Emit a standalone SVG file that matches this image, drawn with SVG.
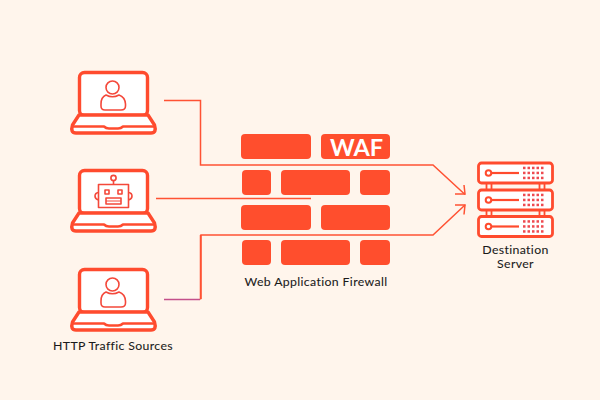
<svg xmlns="http://www.w3.org/2000/svg" width="600" height="400" viewBox="0 0 600 400">
<style>
.o{fill:none;stroke:#ff4b2e;stroke-linecap:round;stroke-linejoin:round}
.s{fill:#fff;stroke:#ff4b2e;stroke-width:3.400;stroke-linejoin:round}
.i{fill:none;stroke:#f4483a;stroke-width:1.600;stroke-linejoin:round}
.c{fill:none;stroke:#ff5233;stroke-width:1.500}
.b{fill:#ff4e2d}
.d{fill:#ee4a50}
text{font-family:Lato,"Noto Sans",sans-serif;font-size:12.300px;fill:#1a1a1a;stroke:#1a1a1a;stroke-width:.08px;letter-spacing:.35px}
</style>
<defs>
<g id="laptop">
<rect class="s" x="79.500" y="72.500" width="68" height="43" rx="5"/>
<path class="s" d="M79 115H148L154.500 125Q157 133 151 133H76Q70 133 72.500 125Z"/>
<path class="o" d="M73 126.500H104Q106 128.500 109 128.500H118Q121 128.500 123 126.500H154" style="stroke-width:2.600"/>
</g>
<g id="user">
<circle class="i" cx="112.500" cy="87.500" r="6.500"/>
<path class="i" d="M106 95Q112.500 98.500 119 95Q125 97 125.500 104V106Q125.500 110 121 110H105Q101 110 101 106V104Q101 97 106 95Z"/>
</g>
<g id="unit">
<rect class="s" x="478.500" y="0" width="74" height="20" rx="3" style="stroke-width:2.800"/>
<circle cx="488.500" cy="10" r="2.800" fill="#fff" stroke="#ff4b2e" stroke-width="2"/>
<path d="M491.500 10H519" stroke="#ff4b2e" stroke-width="2.200" fill="none"/>
<g class="d">
<rect x="523" y="3.700" width="2.500" height="2.500"/><rect x="527.500" y="3.700" width="2.500" height="2.500"/><rect x="532" y="3.700" width="2.500" height="2.500"/><rect x="536.500" y="3.700" width="2.500" height="2.500"/><rect x="541" y="3.700" width="2.500" height="2.500"/>
<rect x="523" y="8.700" width="2.500" height="2.500"/><rect x="527.500" y="8.700" width="2.500" height="2.500"/><rect x="532" y="8.700" width="2.500" height="2.500"/><rect x="536.500" y="8.700" width="2.500" height="2.500"/><rect x="541" y="8.700" width="2.500" height="2.500"/>
<rect x="523" y="13.700" width="2.500" height="2.500"/><rect x="527.500" y="13.700" width="2.500" height="2.500"/><rect x="532" y="13.700" width="2.500" height="2.500"/><rect x="536.500" y="13.700" width="2.500" height="2.500"/><rect x="541" y="13.700" width="2.500" height="2.500"/>
</g>
</g>
</defs>
<rect width="600" height="400" fill="#fff5ec"/>
<g id="connectors">
<path class="c" d="M164 100.500H200.500V165H433L465 194.500"/>
<path class="c" d="M455 194H465L464 185"/>
<path class="c" d="M156 198.500H311"/>
<path class="c" d="M465 205L433 235H201V299"/>
<path class="c" d="M455 205H465L464 214.500"/>
<path fill="none" stroke="#c4508a" stroke-width="1.500" d="M164 299.500H200"/>
<path class="c" d="M200.500 235V299.500"/>
</g>
<g id="node-user-top"><use href="#laptop"/><use href="#user"/></g>
<g id="node-bot">
<use href="#laptop" y="98"/>
<circle class="i" cx="113.500" cy="178" r="2.600"/>
<path class="i" d="M113.500 181V184"/>
<rect class="i" x="98.500" y="184.500" width="30" height="23"/>
<path class="i" d="M98.500 192.500Q95 193 95 196Q95 199 98.500 200M128.500 192.500Q132 193 132 196Q132 199 128.500 200"/>
<rect class="i" x="105" y="190" width="4" height="4"/>
<rect class="i" x="118" y="190" width="4" height="4"/>
<rect class="i" x="106" y="198" width="15" height="6"/>
<path class="i" d="M106 201H121" style="stroke-width:1"/>
</g>
<g id="node-user-bottom"><use href="#laptop" y="197"/><use href="#user" y="197"/></g>
<g id="label-sources"><text x="113" y="350" text-anchor="middle">HTTP Traffic Sources</text></g>
<g id="node-waf">
<rect class="b" x="241" y="134" width="70" height="25" rx="4"/>
<rect class="b" x="321" y="134" width="69" height="25" rx="4"/>
<rect class="b" x="242" y="170" width="29" height="25" rx="4"/>
<rect class="b" x="281" y="170" width="69" height="25" rx="4"/>
<rect class="b" x="360" y="170" width="30" height="25" rx="4"/>
<rect class="b" x="241" y="205" width="70" height="25" rx="4"/>
<rect class="b" x="321" y="205" width="69" height="25" rx="4"/>
<rect class="b" x="242" y="240" width="29" height="25" rx="4"/>
<rect class="b" x="281" y="240" width="69" height="25" rx="4"/>
<rect class="b" x="360" y="240" width="30" height="25" rx="4"/>
<text x="356.500" y="155.500" text-anchor="middle" style="font-size:23.500px;font-weight:700;fill:#fff;stroke:none;letter-spacing:0">WAF</text>
<text x="316" y="286" text-anchor="middle">Web Application Firewall</text>
</g>
<g id="node-server">
<path d="M486.500 183V189M491.500 183V189M539.500 183V189M544.500 183V189M486.500 210V216M491.500 210V216M539.500 210V216M544.500 210V216" stroke="#ff4b2e" stroke-width="1.800" fill="none"/>
<use href="#unit" y="163"/>
<use href="#unit" y="190"/>
<use href="#unit" y="216.500"/>
<text x="515.500" y="254" text-anchor="middle">Destination</text>
<text x="515.500" y="268" text-anchor="middle">Server</text>
</g>
</svg>
